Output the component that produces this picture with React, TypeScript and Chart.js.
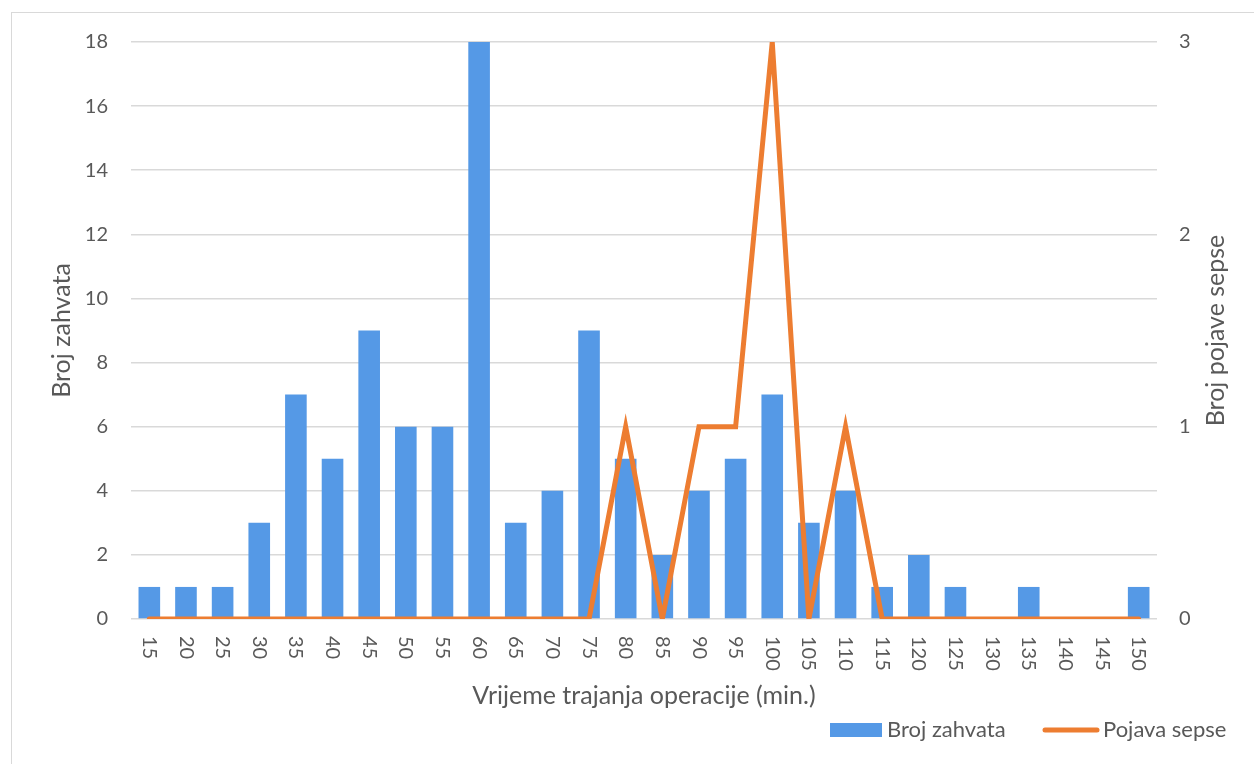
import React, { useEffect, useRef } from "react";
import { Chart, registerables } from "chart.js";

Chart.register(...registerables);

const categories: string[] = [
  "15", "20", "25", "30", "35", "40", "45", "50", "55", "60", "65", "70", "75", "80",
  "85", "90", "95", "100", "105", "110", "115", "120", "125", "130", "135", "140", "145", "150",
];
const brojZahvata: number[] = [1, 1, 1, 3, 7, 5, 9, 6, 6, 18, 3, 4, 9, 5, 2, 4, 5, 7, 3, 4, 1, 2, 1, 0, 1, 0, 0, 1];
const pojavaSepse: number[] = [0, 0, 0, 0, 0, 0, 0, 0, 0, 0, 0, 0, 0, 1, 0, 1, 1, 3, 0, 1, 0, 0, 0, 0, 0, 0, 0, 0];

const barLabel = "Broj zahvata";
const lineLabel = "Pojava sepse";
const xTitle = "Vrijeme trajanja operacije (min.)";
const yLeftTitle = "Broj zahvata";
const yRightTitle = "Broj pojave sepse";

const BLUE = "#5599E6";
const ORANGE = "#ED7D31";
const TEXT = "#595959";
const GRID = "#d9d9d9";
const FONT = "Lato, 'Open Sans', sans-serif";

const W = 1254;
const H = 764;

const extrasPlugin = {
  id: "extras",
  beforeDraw(chart: any) {
    const ctx = chart.ctx;
    ctx.save();
    ctx.strokeStyle = GRID;
    ctx.lineWidth = 1;
    ctx.strokeRect(11.5, 12.5, W + 50, H + 50);
    ctx.restore();
  },
  afterDraw(chart: any) {
    const ctx = chart.ctx;
    const xs = chart.scales.x;
    const area = chart.chartArea;
    ctx.save();
    ctx.fillStyle = TEXT;
    // x tick labels, rotated clockwise
    ctx.font = `20px ${FONT}`;
    ctx.textAlign = "left";
    ctx.textBaseline = "middle";
    categories.forEach((c, i) => {
      const x = xs.getPixelForValue(i);
      ctx.save();
      ctx.translate(x, area.bottom + 17);
      ctx.rotate(Math.PI / 2);
      ctx.fillText(c, 0, 0);
      ctx.restore();
    });
    // right axis title, reading bottom to top
    ctx.font = `25px ${FONT}`;
    ctx.textAlign = "center";
    ctx.textBaseline = "middle";
    ctx.save();
    ctx.translate(1216, (area.top + area.bottom) / 2);
    ctx.rotate(-Math.PI / 2);
    ctx.fillText(yRightTitle, 0, 0);
    ctx.restore();
    // legend
    const ly = 730;
    ctx.font = `22px ${FONT}`;
    ctx.textAlign = "left";
    ctx.fillStyle = BLUE;
    ctx.fillRect(830, ly - 7, 52, 14);
    ctx.fillStyle = TEXT;
    ctx.fillText(barLabel, 887, ly);
    ctx.strokeStyle = ORANGE;
    ctx.lineWidth = 5;
    ctx.lineCap = "round";
    ctx.beginPath();
    ctx.moveTo(1045, ly);
    ctx.lineTo(1097, ly);
    ctx.stroke();
    ctx.fillText(lineLabel, 1103, ly);
    ctx.restore();
  },
};

export default function App() {
  const ref = useRef<HTMLCanvasElement | null>(null);
  useEffect(() => {
    if (!ref.current) return;
    const chart = new Chart(ref.current, {
      type: "bar",
      data: {
        labels: categories,
        datasets: [
          {
            type: "line",
            label: lineLabel,
            data: pojavaSepse,
            yAxisID: "y1",
            borderColor: ORANGE,
            backgroundColor: ORANGE,
            borderWidth: 5,
            borderCapStyle: "round",
            borderJoinStyle: "miter",
            pointRadius: 0,
            tension: 0,
            order: 0,
          } as any,
          {
            type: "bar",
            label: barLabel,
            data: brojZahvata,
            yAxisID: "y",
            backgroundColor: BLUE,
            barPercentage: 0.59,
            categoryPercentage: 1,
            order: 1,
          },
        ],
      },
      options: {
        responsive: false,
        animation: false,
        maintainAspectRatio: false,
        layout: { padding: { top: 42, left: 0, right: 0, bottom: 0 } },
        plugins: {
          legend: { display: false },
          tooltip: { enabled: false },
        },
        scales: {
          x: {
            grid: { display: false, drawTicks: false },
            border: { display: false },
            ticks: { display: false },
            title: {
              display: true,
              text: xTitle,
              color: TEXT,
              font: { family: FONT, size: 25 },
              padding: { top: 0, bottom: 53 },
            },
            afterFit(scale: any) {
              scale.height = H - 619;
            },
          },
          y: {
            position: "left",
            min: 0,
            max: 18,
            ticks: {
              stepSize: 2,
              color: TEXT,
              font: { family: FONT, size: 20 },
              padding: 23,
            },
            grid: { color: GRID, lineWidth: 1.5, drawTicks: false },
            border: { display: false },
            title: {
              display: true,
              text: yLeftTitle,
              color: TEXT,
              font: { family: FONT, size: 25 },
              padding: { top: 47, bottom: 0 },
            },
            afterFit(scale: any) {
              scale.width = 131;
            },
          },
          y1: {
            position: "right",
            min: 0,
            max: 3,
            ticks: {
              stepSize: 1,
              color: TEXT,
              font: { family: FONT, size: 20 },
              padding: 22,
            },
            grid: { display: false, drawTicks: false },
            border: { display: false },
            afterFit(scale: any) {
              scale.width = W - 1157;
            },
          },
        },
      } as any,
      plugins: [extrasPlugin],
    });
    return () => chart.destroy();
  }, []);
  return (
    <div style={{ position: "absolute", left: 0, top: 0, width: W, height: H, overflow: "hidden", background: "#fff" }}>
      <canvas ref={ref} width={W} height={H} style={{ width: W, height: H, display: "block" }} />
    </div>
  );
}
